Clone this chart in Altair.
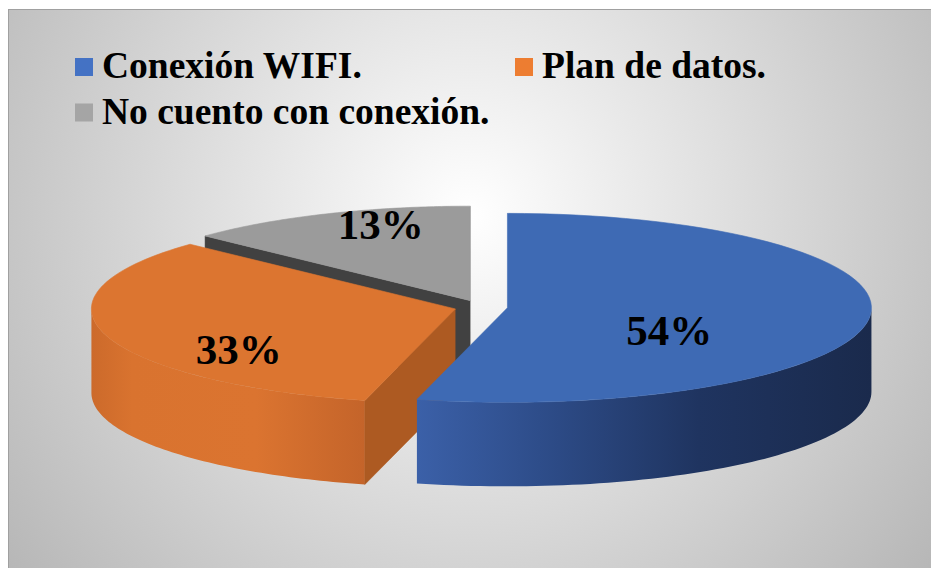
import altair as alt
import pandas as pd

# ---- data ----
categories = ["Conexión WIFI.", "Plan de datos.", "No cuento con conexión."]
values = [54, 33, 13]
slice_order = [0, 1, 2]

# ---- styles ----
legend_colors = ["#4472c4", "#ed7d31", "#a5a5a5"]
top_colors = ["#3e6ab4", "#dc7530", "#9b9b9b"]
face_colors = ["#2a4a8a", "#ad5a22", "#414141"]
rim_stops = [
    [("#3b60a8", 0), ("#2e4d8a", 0.27), ("#1f3460", 0.62), ("#1a2a4c", 1)],
    [("#cc6a2b", 0), ("#d9732f", 0.15), ("#db7430", 0.6), ("#c4642a", 1)],
    [("#8a8a8a", 0), ("#6f6f6f", 1)],
]
paint_order = [2, 1, 0]  # back to front

# ---- layout ----
W, H = 923, 560
CX, CY = 473, 299
RX, RY = 364, 94.5
DEPTH = 84
EXPLODE = 0.0732
N = 72
SERIF = "Liberation Serif"
# legend layout (plot coords)
LEG_SX, LEG_TX, LEG_COLW = 76, 94, 440
LEG_Y0, LEG_ROWH = 59, 45.5

src = pd.DataFrame({"category": categories, "value": values, "ord": slice_order})

xs = alt.Scale(domain=[0, W], nice=False, zero=False)
ys = alt.Scale(domain=[0, H], nice=False, zero=False, reverse=True)
color_scale = alt.Scale(domain=categories, range=legend_colors)

base = (
    alt.Chart(src)
    .transform_joinaggregate(total="sum(value)")
    .transform_window(cum="sum(value)", sort=[alt.SortField("ord", order="ascending")], frame=[None, 0])
    .transform_calculate(
        a0="2*PI*(datum.cum-datum.value)/datum.total",
        a1="2*PI*datum.cum/datum.total",
        mid="(datum.a0+datum.a1)/2",
        ox=f"{CX}+{RX*EXPLODE}*sin(datum.mid)",
        oy=f"{CY}-{RY*EXPLODE}*cos(datum.mid)",
        pct="format(datum.value/datum.total,'.0%')",
        half="(datum.a1-datum.a0)/2",
        kc="min(1.15*2*sin(datum.half)/(3*datum.half),0.62)",
        lx=f"datum.ox+datum.kc*{RX}*sin(datum.mid)",
        ly=f"datum.oy-datum.kc*{1.67*RY}*cos(datum.mid)+15",
    )
)

def xy_enc():
    return dict(
        x=alt.X("px:Q", scale=xs, axis=None),
        y=alt.Y("py:Q", scale=ys, axis=None),
        order=alt.Order("idx:Q"),
    )

def top_layer(i):
    c = categories[i]
    return (
        base.transform_filter(alt.datum.category == c)
        .transform_calculate(idx=f"sequence(0,{N+3})")
        .transform_flatten(["idx"])
        .transform_calculate(
            arc=f"datum.idx>0 && datum.idx<{N+2}",
            th=f"datum.a0+(datum.a1-datum.a0)*clamp((datum.idx-1)/{N},0,1)",
            px=f"datum.ox+(datum.arc?{RX}*sin(datum.th):0)",
            py=f"datum.oy-(datum.arc?{RY}*cos(datum.th):0)",
        )
        .mark_line(fill=top_colors[i], stroke=top_colors[i], strokeWidth=0.6)
        .encode(**xy_enc())
    )

def rim_layer(i):
    c = categories[i]
    grad = alt.LinearGradient(
        gradient="linear",
        stops=[alt.GradientStop(color=col, offset=off) for col, off in rim_stops[i]],
        x1=0, x2=1, y1=0, y2=0,
    )
    return (
        base.transform_filter(alt.datum.category == c)
        .transform_calculate(lo="max(datum.a0,PI/2)", hi="min(datum.a1,3*PI/2)")
        .transform_filter("datum.lo<datum.hi")
        .transform_calculate(idx=f"sequence(0,{2*N+2})")
        .transform_flatten(["idx"])
        .transform_calculate(
            bot=f"datum.idx>{N}",
            s=f"datum.bot?({2*N+1}-datum.idx)/{N}:datum.idx/{N}",
            th="datum.lo+(datum.hi-datum.lo)*datum.s",
            px=f"datum.ox+{RX}*sin(datum.th)",
            py=f"datum.oy-{RY}*cos(datum.th)+(datum.bot?{DEPTH}:0)",
        )
        .mark_line(fill=grad, stroke="transparent", strokeWidth=0)
        .encode(**xy_enc())
    )

def face_layer(i, which):
    c = categories[i]
    cond = "sin(datum.a0)<-0.01" if which == "a0" else "sin(datum.a1)>0.01"
    return (
        base.transform_filter(alt.datum.category == c)
        .transform_filter(cond)
        .transform_calculate(idx="sequence(0,4)")
        .transform_flatten(["idx"])
        .transform_calculate(
            r="(datum.idx==1||datum.idx==2)?1:0",
            px=f"datum.ox+{RX}*datum.r*sin(datum.{which})",
            py=f"datum.oy-{RY}*datum.r*cos(datum.{which})+(datum.idx>=2?{DEPTH}:0)",
        )
        .mark_line(fill=face_colors[i], stroke=face_colors[i], strokeWidth=0.5)
        .encode(**xy_enc())
    )

one = pd.DataFrame({"k": [0]})
bg = (
    alt.Chart(one)
    .mark_rect(
        fill=alt.RadialGradient(
            gradient="radial",
            stops=[alt.GradientStop(color="#ffffff", offset=0),
                   alt.GradientStop(color="#a9a9a9", offset=1)],
            x1=0.5, y1=0.42, r1=0, x2=0.5, y2=0.42, r2=0.75,
        ),
    )
    .encode(x=alt.value(0), x2=alt.value(W), y=alt.value(1), y2=alt.value(H))
)
border_top = alt.Chart(one).mark_rule(color="#a0a0a0", strokeWidth=1).encode(
    x=alt.value(0), x2=alt.value(W), y=alt.value(1.5)
)
border_left = alt.Chart(one).mark_rule(color="#a0a0a0", strokeWidth=1).encode(
    x=alt.value(0.5), y=alt.value(1), y2=alt.value(H)
)

layers = [bg, border_top, border_left]
for i in paint_order:
    layers += [rim_layer(i), face_layer(i, "a0"), face_layer(i, "a1"), top_layer(i)]

# legend (two columns, row-major) built from the category list
leg = base.transform_calculate(
    col="datum.ord % 2",
    row="floor(datum.ord / 2)",
    sx=f"{LEG_SX}+{LEG_COLW}*datum.col",
    tx=f"{LEG_TX}+{LEG_COLW}*datum.col",
    sy=f"{LEG_Y0}+{LEG_ROWH}*datum.row",
    ty=f"{LEG_Y0}+{LEG_ROWH}*datum.row+11",
)
leg_symbols = leg.mark_square(size=324, opacity=1, strokeWidth=0).encode(
    x=alt.X("sx:Q", scale=xs, axis=None),
    y=alt.Y("sy:Q", scale=ys, axis=None),
    fill=alt.Fill("category:N", scale=color_scale, legend=None),
)
leg_labels = leg.mark_text(
    font=SERIF, fontWeight="bold", fontSize=37.5, color="black",
    align="left", baseline="alphabetic",
).encode(
    x=alt.X("tx:Q", scale=xs, axis=None),
    y=alt.Y("ty:Q", scale=ys, axis=None),
    text="category:N",
)

labels = base.mark_text(
    font=SERIF, fontWeight="bold", fontSize=43, color="black",
    align="center", baseline="middle",
).encode(
    x=alt.X("lx:Q", scale=xs, axis=None),
    y=alt.Y("ly:Q", scale=ys, axis=None),
    text="pct:N",
)

layers += [leg_symbols, leg_labels, labels]

chart = (
    alt.layer(*layers)
    .properties(width=W, height=H, padding=0, autosize=alt.AutoSizeParams(type="none"))
    .configure_view(strokeWidth=0)
)

chart.save("out.html", embed_options={"renderer": "svg", "actions": False})
